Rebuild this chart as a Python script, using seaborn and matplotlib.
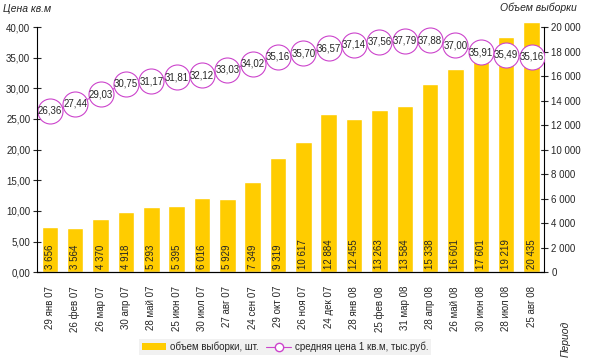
import matplotlib
matplotlib.use("Agg")
import matplotlib.pyplot as plt
import seaborn as sns
import pandas as pd
from matplotlib.patches import Patch
from matplotlib.lines import Line2D

# Данные
periods = ["29 янв 07", "26 фев 07", "26 мар 07", "30 апр 07", "28 май 07",
           "25 июн 07", "30 июл 07", "27 авг 07", "24 сен 07", "29 окт 07",
           "26 ноя 07", "24 дек 07", "28 янв 08", "25 фев 08", "31 мар 08",
           "28 апр 08", "26 май 08", "30 июн 08", "28 июл 08", "25 авг 08"]
volume = [3656, 3564, 4370, 4918, 5293, 5395, 6016, 5929, 7349, 9319,
          10617, 12884, 12455, 13263, 13584, 15338, 16601, 17601, 19219, 20435]
price = [26.36, 27.44, 29.03, 30.75, 31.17, 31.81, 32.12, 33.03, 34.02, 35.16,
         35.70, 36.57, 37.14, 37.56, 37.79, 37.88, 37.00, 35.91, 35.49, 35.16]

df = pd.DataFrame({"period": periods, "volume": volume, "price": price})

sns.set_style("white")
plt.rcParams["font.family"] = ["Liberation Sans", "DejaVu Sans"]

bar_color = "#FFCC00"
line_color = "#CC44CC"

fig = plt.figure(figsize=(6, 3.6), dpi=100)
ax = fig.add_axes([0.062, 0.244, 0.845, 0.698])
ax2 = ax.twinx()

# столбцы - объем выборки
sns.barplot(data=df, x="period", y="volume", color=bar_color, width=0.65,
            saturation=1, ax=ax2, zorder=2)
for i, v in enumerate(volume):
    ax2.text(i, 250, f"{v:,}".replace(",", " "), rotation=90, ha="center",
             va="bottom", fontsize=7)

# линия - средняя цена
sns.pointplot(data=df, x="period", y="price", ax=ax, color=line_color,
              markers="o", markersize=18, markerfacecolor="white",
              markeredgecolor=line_color, markeredgewidth=0.8, linewidth=0.8)
for i, p in enumerate(price):
    ax.text(i, p, f"{p:.2f}".replace(".", ","), ha="center", va="center",
            fontsize=7, zorder=5)

ax.set_zorder(ax2.get_zorder() + 1)
ax.patch.set_visible(False)

ax.set_ylim(0, 41)
ax2.set_ylim(0, 20500)
ax.set_xlim(-0.5, 19.5)
ax.set_yticks(range(0, 41, 5))
ax.set_yticklabels([f"{t:.2f}".replace(".", ",") for t in range(0, 41, 5)], fontsize=7)
ax2.set_yticks(range(0, 20001, 2000))
ax2.set_yticklabels([f"{t:,}".replace(",", " ") for t in range(0, 20001, 2000)], fontsize=7)

ax.set_xlabel("")
ax.set_ylabel("")
ax2.set_xlabel("")
ax2.set_ylabel("")
ax.set_xticks(range(len(periods)))
ax.set_xticklabels(periods, rotation=90, fontsize=7)
ax.tick_params(axis="x", length=0, pad=10)
ax.set_xticks([i - 0.5 for i in range(len(periods) + 1)], minor=True)
ax.tick_params(axis="x", which="minor", length=6, direction="inout", width=0.8)
ax.tick_params(axis="y", length=6, direction="inout", width=0.8, pad=2)
ax2.tick_params(axis="y", length=6, direction="inout", width=0.8, pad=2)

for a in (ax, ax2):
    a.spines["top"].set_visible(False)
    for s in ("left", "right", "bottom"):
        a.spines[s].set_color("black")
        a.spines[s].set_linewidth(0.8)
ax.spines["left"].set_bounds(0, 40)
ax2.spines["right"].set_bounds(0, 20000)
ax2.spines["left"].set_visible(False)
ax.spines["right"].set_visible(False)

fig.text(0.005, 0.975, "Цена кв.м", fontsize=7.5, style="italic", va="center")
fig.text(0.962, 0.978, "Объем выборки", fontsize=7.5, style="italic",
         va="center", ha="right")
fig.text(0.942, 0.06, "Период", fontsize=7.5, style="italic", rotation=90,
         va="center", ha="center")

handles = [Patch(facecolor=bar_color, edgecolor="none"),
           Line2D([], [], color=line_color, marker="o", markersize=6,
                  markerfacecolor="white", linewidth=0.8)]
leg = fig.legend(handles, ["объем выборки, шт.", "средняя цена 1 кв.м, тыс.руб."],
                 loc="center", bbox_to_anchor=(0.475, 0.036), ncol=2, fontsize=7,
                 frameon=True, fancybox=False, handlelength=2.5,
                 columnspacing=0.8, handletextpad=0.4, borderpad=0.3)
leg.get_frame().set_facecolor("#EEEEEE")
leg.get_frame().set_edgecolor("none")

fig.savefig("out.png", dpi=100)
